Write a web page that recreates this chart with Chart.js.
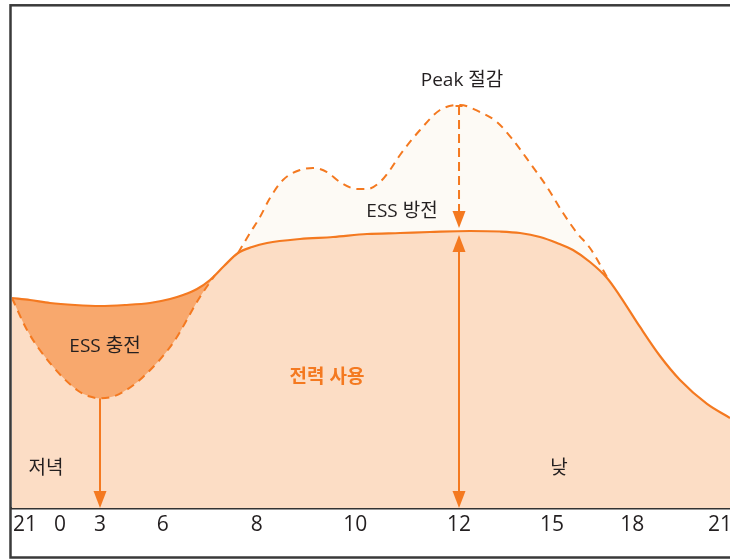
<!DOCTYPE html>
<html><head><meta charset="utf-8">
<script src="https://cdn.jsdelivr.net/npm/chart.js@4/dist/chart.umd.min.js"></script>
<style>html,body{margin:0;padding:0;background:#fff;overflow:hidden}#wrap{width:730px;height:559px}</style>
</head><body><div id="wrap"><canvas id="c" width="730" height="559"></canvas></div>
<script>
// x: relative position along the day (0..100), y: relative load (0..100)
const tickPos = [1.8, 6.7, 12.26, 21.0, 34.1, 47.8, 62.26, 75.2, 86.4, 98.6];
const tickLabels = ['21', '0', '3', '6', '8', '10', '12', '15', '18', '21'];

// load after ESS (solid)
const loadX = [0, 2.51, 5.29, 8.77, 12.26, 15.74, 19.22, 22.01, 23.82, 25.77, 27.58, 29.53, 31.48, 33.43, 35.52, 40.11, 44.71, 49.44, 54.04, 58.22, 63.79, 67.97, 70.75, 73.54, 75.91, 78.13, 80.50, 82.87, 84.68, 87.47, 90.25, 93.04, 96.80, 100];
const loadY = [41.83, 41.43, 40.84, 40.44, 40.24, 40.44, 40.84, 41.63, 42.43, 43.63, 45.42, 48.21, 50.80, 51.99, 52.79, 53.59, 53.98, 54.58, 54.78, 54.98, 55.18, 55.08, 54.78, 53.98, 52.79, 51.39, 49.00, 45.82, 42.23, 36.06, 30.28, 25.50, 20.72, 17.93];

// original load during the peak (dashed, above)
const peakX = [31.48, 33.15, 34.54, 35.93, 37.74, 40.11, 41.92, 43.87, 45.68, 48.05, 49.44, 51.26, 52.65, 54.04, 56.83, 59.61, 62.40, 65.18, 67.55, 69.78, 72.15, 74.52, 76.75, 78.70, 80.50, 82.87];
const peakY = [50.80, 54.78, 57.97, 61.75, 65.34, 67.33, 67.73, 66.93, 64.94, 63.54, 63.54, 64.94, 67.33, 70.32, 75.30, 79.28, 80.28, 78.88, 76.89, 73.31, 68.72, 63.94, 58.76, 54.78, 51.79, 46.02];

// original load at night (dashed, below)
const chargeX = [0, 2.09, 5.29, 9.05, 10.86, 12.26, 14.07, 15.46, 18.25, 22.42, 26.18, 28.27];
const chargeY = [41.83, 35.46, 28.88, 23.51, 22.21, 21.85, 22.21, 23.11, 26.10, 32.87, 42.03, 46.41];

// arrows: [x, fromY, toY]
const chargeArrow = [12.26, 21.85, 0];
const peakArrow = [62.26, 80.28, 55.78];
const useArrow = [62.26, 54.38, 0];

// labels: [text, x, y]
const textLabels = [
  ['Peak 절감', 62.68, 85.2],
  ['ESS 방전', 54.32, 58.96],
  ['ESS 충전', 12.95, 32.07],
  ['저녁', 4.74, 7.77],
  ['낮', 76.19, 7.77]
];
const boldLabels = [['전력 사용', 43.87, 25.90]];

const ORANGE = '#f47920';
const FONT = '"Open Sans", "Noto Sans CJK KR", sans-serif';
const pts = (xs, ys) => xs.map((x, i) => ({x, y: ys[i]}));

function head(ctx, x, tip, dir) {
  ctx.beginPath();
  ctx.moveTo(x, tip);
  ctx.lineTo(x - 6.5, tip - dir * 17);
  ctx.lineTo(x + 6.5, tip - dir * 17);
  ctx.closePath();
  ctx.fill();
}

const decor = {
  id: 'decor',
  afterDatasetsDraw(chart) {
    const ctx = chart.ctx, xs = chart.scales.x, ys = chart.scales.y;
    ctx.save();
    ctx.strokeStyle = ORANGE; ctx.fillStyle = ORANGE; ctx.lineWidth = 2;
    // charge arrow
    let x = xs.getPixelForValue(chargeArrow[0]);
    let y1 = ys.getPixelForValue(chargeArrow[1]), y2 = ys.getPixelForValue(chargeArrow[2]);
    ctx.beginPath(); ctx.moveTo(x, y1); ctx.lineTo(x, y2 - 15); ctx.stroke();
    head(ctx, x, y2, 1);
    // peak arrow (dashed)
    x = xs.getPixelForValue(peakArrow[0]);
    y1 = ys.getPixelForValue(peakArrow[1]); y2 = ys.getPixelForValue(peakArrow[2]);
    ctx.setLineDash([9, 5]);
    ctx.beginPath(); ctx.moveTo(x, y1 + 1); ctx.lineTo(x, y2 - 16); ctx.stroke();
    ctx.setLineDash([]);
    ctx.beginPath(); ctx.moveTo(x - 3.5, y1 + 1); ctx.lineTo(x + 3.5, y1 + 1); ctx.stroke();
    head(ctx, x, y2, 1);
    // use arrow (double)
    x = xs.getPixelForValue(useArrow[0]);
    y1 = ys.getPixelForValue(useArrow[1]); y2 = ys.getPixelForValue(useArrow[2]);
    ctx.beginPath(); ctx.moveTo(x, y1 + 15); ctx.lineTo(x, y2 - 15); ctx.stroke();
    head(ctx, x, y1, -1);
    head(ctx, x, y2, 1);
    // labels
    ctx.textAlign = 'center'; ctx.textBaseline = 'middle';
    ctx.fillStyle = '#231f20';
    ctx.font = '19px ' + FONT;
    textLabels.forEach(([t, lx, ly]) => ctx.fillText(t, xs.getPixelForValue(lx), ys.getPixelForValue(ly)));
    ctx.fillStyle = ORANGE;
    ctx.font = 'bold 19px ' + FONT;
    boldLabels.forEach(([t, lx, ly]) => ctx.fillText(t, xs.getPixelForValue(lx), ys.getPixelForValue(ly)));
    ctx.restore();
  },
  afterDraw(chart) {
    const ctx = chart.ctx;
    ctx.save();
    ctx.strokeStyle = '#3a3a3a'; ctx.lineWidth = 2.5;
    ctx.strokeRect(10.5, 5.3, 740, 552.2);
    ctx.restore();
  }
};

new Chart(document.getElementById('c'), {
  type: 'line',
  data: {
    datasets: [
      {data: pts(chargeX, chargeY), borderColor: ORANGE, borderWidth: 2, borderDash: [8, 6],
       backgroundColor: '#f8a86d', fill: 2, pointRadius: 0, cubicInterpolationMode: 'monotone'},
      {data: pts(peakX, peakY), borderColor: ORANGE, borderWidth: 2, borderDash: [8, 6],
       backgroundColor: '#fdfaf5', fill: 2, pointRadius: 0, cubicInterpolationMode: 'monotone'},
      {data: pts(loadX, loadY), borderColor: ORANGE, borderWidth: 2.2,
       backgroundColor: '#fcddc5', fill: 'origin', pointRadius: 0, cubicInterpolationMode: 'monotone'}
    ]
  },
  options: {
    responsive: false, animation: false, devicePixelRatio: 1,
    layout: {padding: {left: 12, top: 6, right: 0, bottom: 0}},
    plugins: {legend: {display: false}, tooltip: {enabled: false}, filler: {drawTime: 'beforeDatasetsDraw'}},
    scales: {
      x: {
        type: 'linear', min: 0, max: 100, z: 1,
        afterBuildTicks: s => { s.ticks = tickPos.map(v => ({value: v})); },
        afterFit: s => { s.height = 51; s.paddingLeft = 0; s.paddingRight = 0; },
        grid: {display: false, drawTicks: false},
        border: {display: true, color: '#333', width: 2.5},
        ticks: {autoSkip: false, maxRotation: 0, minRotation: 0, padding: 4, color: '#231f20',
                font: {family: FONT, size: 21},
                callback: v => tickLabels[tickPos.indexOf(v)]}
      },
      y: {type: 'linear', min: 0, max: 100, display: false}
    }
  },
  plugins: [decor]
});
</script></body></html>
